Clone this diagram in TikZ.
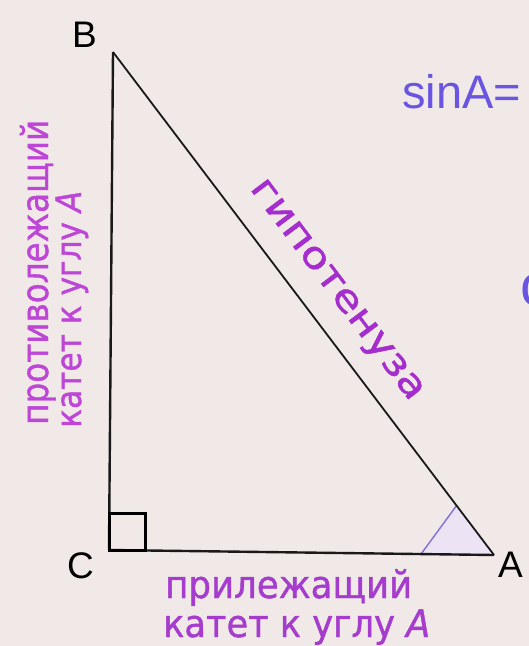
\documentclass[tikz,border=0pt]{standalone}
\usepackage{fontspec}
\usepackage{graphicx}
\setmainfont{Liberation Sans}
\newfontfamily\lblfont{DejaVu Sans}[FakeBold=1.2, ItalicFont={DejaVu Sans Oblique}, ItalicFeatures={FakeBold=1.2}]
\usetikzlibrary{calc}
\definecolor{bgcol}{RGB}{240,233,231}
\definecolor{sincol}{RGB}{105,85,225}
\definecolor{hypcol}{RGB}{165,45,205}
\definecolor{oppcol}{RGB}{190,70,215}
\definecolor{adjcol}{RGB}{165,60,205}
\definecolor{anglecol}{RGB}{130,110,220}
\definecolor{anglefill}{RGB}{236,228,245}
\tikzset{
  vlabel/.style={inner sep=0pt, anchor=base west, font=\fontsize{37}{37}\selectfont},
  leg/.style={line width=2.4pt, black!90},
  lbl/.style={inner sep=0pt, anchor=base west},
}
\begin{document}
\begin{tikzpicture}[x=1pt,y=-1pt]
\fill[bgcol] (0,0) rectangle (529,646);
\useasboundingbox (0,0) rectangle (529,646);
\clip (0,0) rectangle (529,646);
\coordinate (B) at (113,52);
\coordinate (C) at (109,550);
\coordinate (A) at (494,555);
\coordinate (A1) at ($(A)!73pt!(C)$);
\coordinate (A2) at ($(A)!62pt!(B)$);
\fill[anglefill] (A) -- (A1) -- (A2) -- cycle;
\draw[anglecol, line width=1.4pt] (A1) -- (A2);
\draw[leg] (B) -- (C);
\draw[leg] (C) -- (A);
\draw[line width=1.8pt, black!90] (B) -- (A);
\coordinate (R) at (145,513);
\draw[line width=3pt, black] (C) rectangle (R);
\node[vlabel] (lB) at (72,47) {B};
\node[vlabel] (lC) at (67,578) {C};
\node[vlabel] (lA) at (498,577) {A};
\node[lbl, text=sincol, font=\fontsize{47}{47}\selectfont] (sin) at (402,108) {sinA=};
\node[lbl, text=sincol, font=\fontsize{58}{58}\selectfont] (cos) at (520,305) {cosA=};
\coordinate (M) at ($(B)!0.515!(A)$);
\node[lbl, anchor=base, rotate=-53, text=hypcol] (hyp) at ($(M)!26pt!90:(A)$)
  {\resizebox{268pt}{\height}{\lblfont\fontsize{37}{37}\selectfont гипотенуза}};
\node[lbl, rotate=90, text=oppcol] (opp1) at (48,425)
  {\resizebox{305pt}{\height}{\lblfont\fontsize{37}{37}\selectfont противолежащий}};
\node[lbl, rotate=90, text=oppcol] (opp2) at (81,428)
  {\resizebox{237pt}{\height}{\lblfont\fontsize{35}{35}\selectfont катет к углу \textit{A}}};
\node[lbl, text=adjcol] (adj1) at (165,598)
  {\resizebox{247pt}{\height}{\lblfont\fontsize{38}{38}\selectfont прилежащий}};
\node[lbl, text=adjcol] (adj2) at (163,637)
  {\resizebox{267pt}{\height}{\lblfont\fontsize{38}{38}\selectfont катет к углу \textit{A}}};
\end{tikzpicture}
\end{document}
